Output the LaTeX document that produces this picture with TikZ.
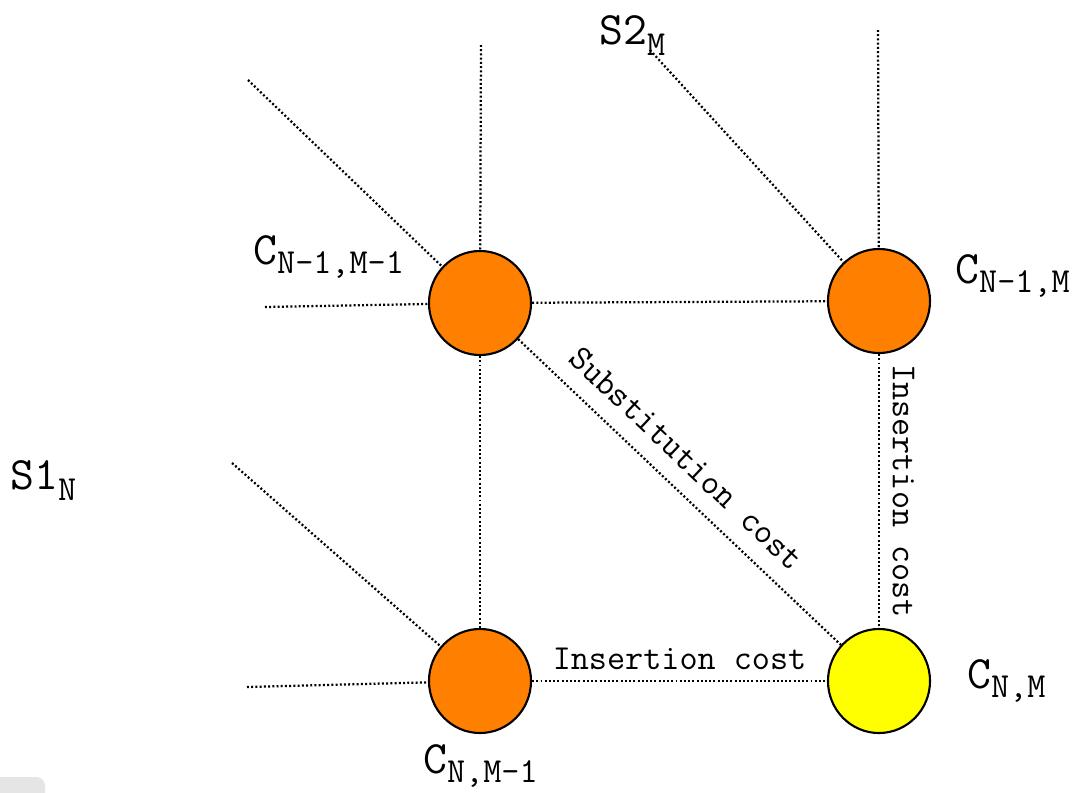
\documentclass[tikz,border=0pt]{standalone}
\usepackage{fontspec}
\usepackage{xcolor}
\usetikzlibrary{shapes.geometric}

\definecolor{cellorange}{HTML}{FF7F00}
\definecolor{cellyellow}{HTML}{FFFF00}

% big letter with a lowered index, both in typewriter
\newcommand{\bigname}[3]{{\fontsize{33}{33}\selectfont #1}\raisebox{-#3}{\fontsize{25}{25}\selectfont #2}}

\begin{document}
\begin{tikzpicture}[x=0.025cm, y=-0.025cm,
  cell/.style={draw, ellipse, line width=1.5pt, minimum width=2.55cm, minimum height=2.6cm, inner sep=0pt},
  link/.style={line width=1.6pt, dash pattern=on 1.4pt off 1.6pt},
  costlabel/.style={font=\ttfamily\fontsize{25}{25}\selectfont, midway, sloped, above, inner sep=7pt},
  namelabel/.style={anchor=base west, inner sep=0pt, font=\ttfamily}
]
\useasboundingbox (0,0) rectangle (1088,792);
\fill[black!10, rounded corners=6pt] (-20,777) rectangle (45,810);

% cells of the cost matrix
\node[cell, fill=cellorange] (ctl) at (480,303) {};
\node[cell, fill=cellorange] (ctr) at (879,301) {};
\node[cell, fill=cellorange] (cbl) at (480,681) {};
\node[cell, fill=cellyellow] (cbr) at (879,681) {};

% loose ends
\coordinate (ctlup) at (481,45);
\coordinate (ctldiag) at (248,80);
\coordinate (ctlleft) at (265,307);
\coordinate (ctrup) at (878,30);
\coordinate (ctrdiag) at (650,50);
\coordinate (cbldiag) at (232,463);
\coordinate (cblleft) at (247,687);

\draw[link] (ctlup) -- (ctl);
\draw[link] (ctldiag) -- (ctl);
\draw[link] (ctlleft) -- (ctl);
\draw[link] (ctrup) -- (ctr);
\draw[link] (ctrdiag) -- (ctr);
\draw[link] (cbldiag) -- (cbl);
\draw[link] (cblleft) -- (cbl);
\draw[link] (ctl) -- (ctr);
\draw[link] (ctl) -- (cbl);
\draw[link] (ctl) -- node[costlabel, inner sep=12pt, pos=0.46] {Substitution cost} (cbr);
\draw[link] (ctr) -- node[costlabel, inner sep=9pt] {Insertion cost} (cbr);
\draw[link] (cbl) -- node[costlabel] {Insertion cost} (cbr);

% names
\node[namelabel] (s2) at (599,44) {\bigname{S2}{M}{8.5pt}};
\node[namelabel] (s1) at (10,489) {\bigname{S1}{N}{8.5pt}};
\node[namelabel] (ltl) at (253,264) {\bigname{C}{N-1,M-1}{7pt}};
\node[namelabel] (ltr) at (955,283) {\bigname{C}{N-1,M}{7pt}};
\node[namelabel] (lbr) at (967,688) {\bigname{C}{N,M}{7pt}};
\node[namelabel] (lbl) at (423,773) {\bigname{C}{N,M-1}{7pt}};
\end{tikzpicture}
\end{document}
